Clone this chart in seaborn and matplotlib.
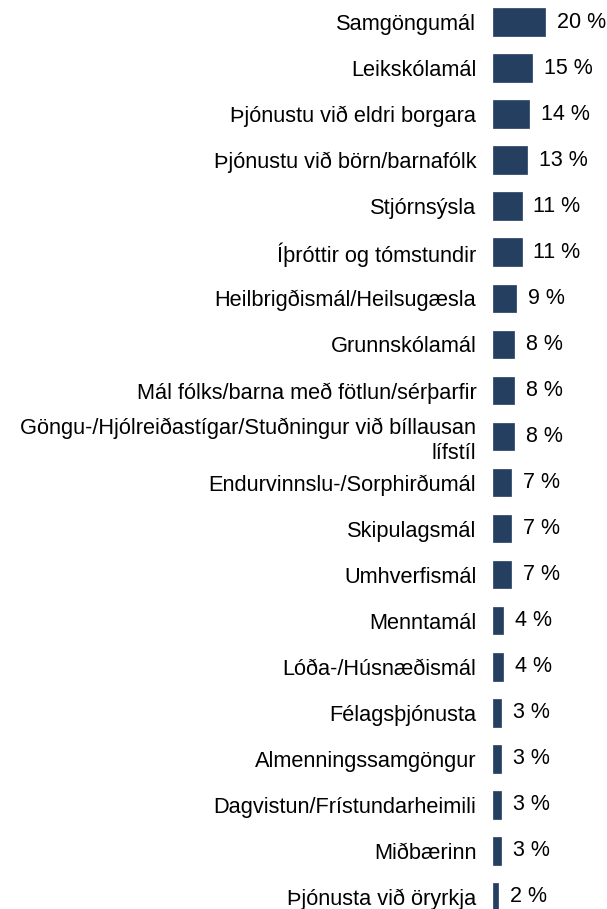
import matplotlib
matplotlib.use("Agg")
import matplotlib.pyplot as plt
import seaborn as sns
import pandas as pd

categories = [
    "Samgöngumál",
    "Leikskólamál",
    "Þjónustu við eldri borgara",
    "Þjónustu við börn/barnafólk",
    "Stjórnsýsla",
    "Íþróttir og tómstundir",
    "Heilbrigðismál/Heilsugæsla",
    "Grunnskólamál",
    "Mál fólks/barna með fötlun/sérþarfir",
    "Göngu-/Hjólreiðastígar/Stuðningur við bíllausan\nlífstíl",
    "Endurvinnslu-/Sorphirðumál",
    "Skipulagsmál",
    "Umhverfismál",
    "Menntamál",
    "Lóða-/Húsnæðismál",
    "Félagsþjónusta",
    "Almenningssamgöngur",
    "Dagvistun/Frístundarheimili",
    "Miðbærinn",
    "Þjónusta við öryrkja",
]
values = [20, 15, 14, 13, 11, 11, 9, 8, 8, 8, 7, 7, 7, 4, 4, 3, 3, 3, 3, 2]

df = pd.DataFrame({"category": categories, "value": values})

sns.set_theme(style="white")
plt.rcParams["font.family"] = ["Liberation Sans", "DejaVu Sans"]

W, H = 607, 909
fig = plt.figure(figsize=(W / 100, H / 100), dpi=100)
ax = fig.add_axes([493 / W, 0, 1 - 493 / W, 1])

sns.barplot(data=df, x="value", y="category", orient="h", color="#243F60",
            width=0.6, saturation=1, ax=ax, edgecolor="#243F60", linewidth=0.5)

ax.set_xlim(0, (W - 493) / 2.6)
row = 46.05
ax.set_ylim(19 + (H - 897) / row, -22 / row)

for i, v in enumerate(values):
    ax.annotate(f"{v} %", xy=(v, i), xytext=(8.5, 0), textcoords="offset points",
                ha="left", va="center", fontsize=15.5, color="#000000")

ax.set_yticks(range(len(categories)))
ax.set_yticklabels(categories, fontsize=15.7, color="#000000", ha="right",
                   multialignment="right", linespacing=1.25)
ax.tick_params(axis="y", length=0, pad=12)
ax.set_xticks([])
ax.set_xlabel("")
ax.set_ylabel("")
for s in ax.spines.values():
    s.set_visible(False)

fig.savefig("out.png", dpi=100, facecolor="white")
